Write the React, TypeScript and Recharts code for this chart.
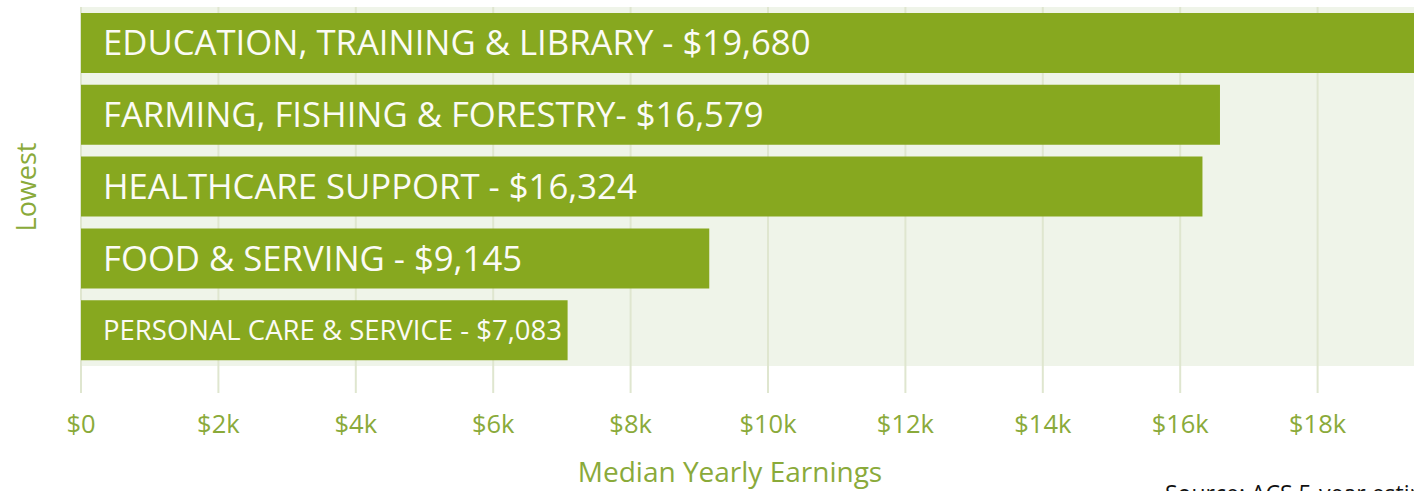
import { Bar, BarChart, CartesianGrid, LabelList, XAxis, YAxis } from "recharts";

const occupations = ["Education", "Farming", "Healthcare", "Food", "Personal"];
const earnings = [19680, 16579, 16324, 9145, 7083];
const barLabels = [
  "EDUCATION, TRAINING & LIBRARY - $19,680",
  "FARMING, FISHING & FORESTRY- $16,579",
  "HEALTHCARE SUPPORT - $16,324",
  "FOOD & SERVING - $9,145",
  "PERSONAL CARE & SERVICE - $7,083",
];
const xTicks = [0, 2000, 4000, 6000, 8000, 10000, 12000, 14000, 16000, 18000];

const data = occupations.map((name, i) => ({ name, value: earnings[i], label: barLabels[i] }));

const green = "#87a81f";
const textGreen = "#8aaa3a";
const font = "'Open Sans', sans-serif";

function BarText(props: any) {
  const { x, y, height, value, index } = props;
  const small = index === 4;
  return (
    <text
      x={x + 22}
      y={y + height / 2}
      dy="0.36em"
      fill="#fbfbf5"
      fontFamily={font}
      fontSize={small ? 27.5 : 34.7}
    >
      {value}
    </text>
  );
}

export default function App() {
  return (
    <div style={{ position: "absolute", left: 0, top: 0, width: 1414, height: 491, overflow: "hidden", background: "#fff" }}>
      <BarChart
        width={1500}
        height={491}
        data={data}
        layout="vertical"
        barCategoryGap={6}
        margin={{ top: 7, right: 45, left: 81, bottom: 0 }}
      >
        <CartesianGrid horizontal={false} stroke="#dfe6cf" strokeWidth={2} fill="#eff4e9" />
        <XAxis
          type="number"
          domain={[0, 20000]}
          ticks={xTicks}
          axisLine={false}
          tickLine={{ stroke: "#dfe6cf", strokeWidth: 2 }}
          tickSize={27}
          tickMargin={22}
          tickFormatter={(v: number) => (v === 0 ? "$0" : `$${v / 1000}k`)}
          tick={{ fill: textGreen, fontSize: 25.5, fontFamily: font }}
          label={{
            value: "Median Yearly Earnings",
            position: "insideBottom",
            offset: 9,
            dx: -38,
            fill: textGreen,
            fontSize: 28,
            fontFamily: font,
          }}
          height={125}
        />
        <YAxis type="category" dataKey="name" hide />
        <Bar dataKey="value" fill={green} isAnimationActive={false}>
          <LabelList dataKey="label" content={<BarText />} />
        </Bar>
      </BarChart>
      <svg style={{ position: "absolute", left: 0, top: 0 }} width={60} height={491}>
        <text
          x={26}
          y={187}
          transform="rotate(-90 26 187)"
          textAnchor="middle"
          dy="0.36em"
          fill={textGreen}
          fontFamily={font}
          fontSize={27}
        >
          Lowest
        </text>
      </svg>
      <div
        style={{
          position: "absolute",
          left: 1165,
          top: 477,
          color: "#111",
          fontFamily: font,
          fontSize: 23,
          whiteSpace: "nowrap",
        }}
      >
        Source: ACS 5-year estimates
      </div>
    </div>
  );
}
